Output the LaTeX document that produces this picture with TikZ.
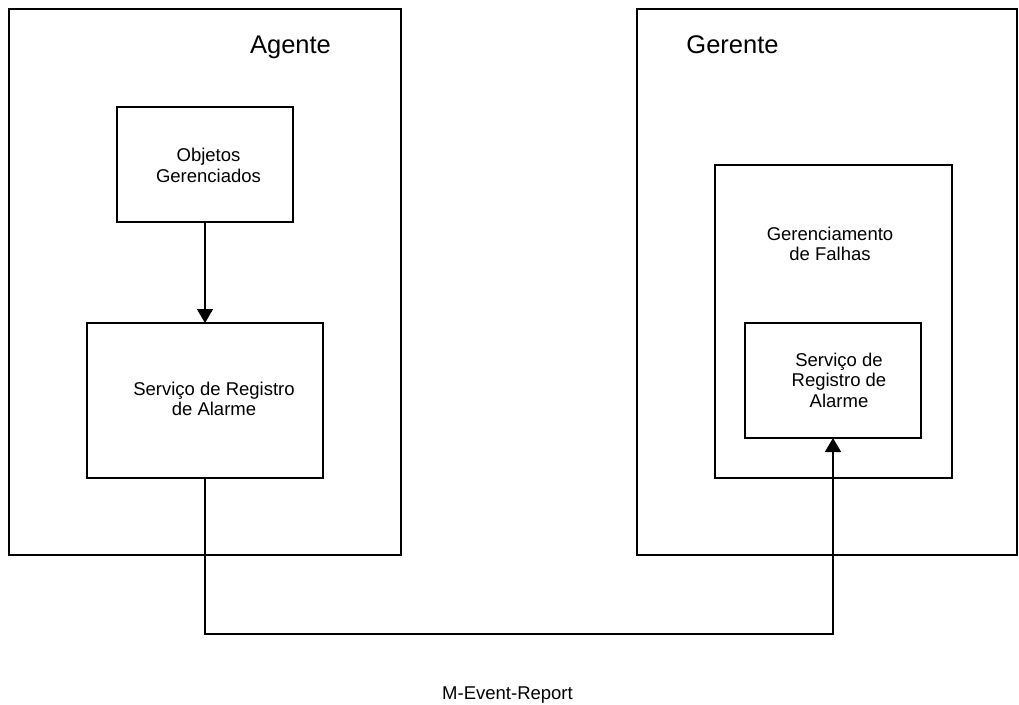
\documentclass[tikz,border=0pt]{standalone}
\usepackage{fontspec}
\setmainfont{Liberation Sans}
\usetikzlibrary{arrows.meta}
\begin{document}
\begin{tikzpicture}[x=1pt,y=-1pt,line width=1.7pt,
  box/.style={draw,line width=1.7pt,inner sep=0pt,outer sep=0pt,anchor=north west},
  title/.style={font=\fontsize{25.5}{30}\selectfont,inner sep=0pt,anchor=base},
  label/.style={font=\fontsize{18.5}{20.5}\selectfont,align=center,inner sep=0pt},
  flow/.style={line width=1.7pt,-{Triangle[length=14pt,width=16pt]}}]
  \useasboundingbox (0,0) rectangle (1019,704);

  % outer frames
  \node[box,minimum width=392pt,minimum height=546pt] (agente) at (9,9) {};
  \node[box,minimum width=380pt,minimum height=546pt] (gerente) at (637,9) {};
  \node[title] (tagente) at (290.5,53) {Agente};
  \node[title] (tgerente) at (732.5,53) {Gerente};

  % agent side
  \node[box,minimum width=176pt,minimum height=115pt] (objetos) at (117,107) {};
  \node[label] (tobjetos) at (208.5,165.5) {Objetos\\Gerenciados};
  \node[box,minimum width=236pt,minimum height=155pt] (svcA) at (87,323) {};
  \node[label] (tsvcA) at (214,399) {Serviço de Registro\\de Alarme};

  % manager side
  \node[box,minimum width=237pt,minimum height=313pt] (falhas) at (715,165) {};
  \node[label] (tfalhas) at (830,244) {Gerenciamento\\de Falhas};
  \node[box,minimum width=176pt,minimum height=115pt] (svcG) at (745,323) {};
  \node[label] (tsvcG) at (839,380) {Serviço de\\Registro de\\Alarme};

  % connectors
  \draw[flow] (objetos.south) -- (svcA.north);
  \draw[flow] (svcA.south) -- ++(0,156) coordinate (bend) -| (svcG.south);
  \node[label,anchor=base] (report) at (507.5,699) {M-Event-Report};
\end{tikzpicture}
\end{document}
